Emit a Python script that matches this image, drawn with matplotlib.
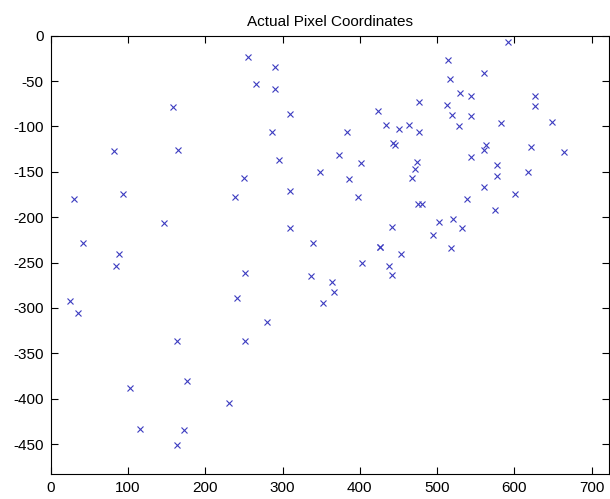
import matplotlib
matplotlib.use('Agg')
import matplotlib.pyplot as plt

# pixel positions of the detected points (x right, y down -> negated)
px = [255, 158, 82, 165, 250, 290, 266, 290, 310, 286,
      383, 423, 476, 434, 451, 464, 476, 443, 446, 373,
      295, 401, 474, 472, 349, 386, 467, 592, 514, 517,
      561, 529, 544, 513, 519, 544, 528, 626, 627, 582,
      648, 563, 560, 622, 664, 544, 577, 577, 617,
      30, 94, 239, 310, 147, 42, 89, 84, 309, 339,
      252, 337, 364, 367, 352, 25, 35, 241, 280, 164,
      252, 102, 176, 231, 116, 173, 164,
      397, 560, 538, 601, 475, 481, 575, 442, 502, 521,
      532, 495, 518, 426, 426, 453, 403, 438, 442]
py = [-24, -79, -127, -126, -157, -34, -53, -59, -86, -106,
      -106, -83, -73, -98, -103, -98, -106, -118, -121, -131,
      -137, -140, -139, -147, -150, -158, -157, -7, -27, -48,
      -41, -63, -67, -76, -87, -88, -99, -66, -77, -96,
      -95, -120, -126, -123, -128, -134, -143, -155, -150,
      -180, -175, -178, -171, -206, -229, -241, -254, -212, -229,
      -261, -265, -271, -282, -295, -292, -306, -289, -315, -336,
      -336, -388, -381, -405, -433, -434, -451,
      -178, -167, -180, -174, -185, -185, -192, -211, -205, -202,
      -212, -220, -234, -233, -233, -241, -251, -254, -264]

xticks = [0, 100, 200, 300, 400, 500, 600, 700]
yticks = [0, -50, -100, -150, -200, -250, -300, -350, -400, -450]

plt.rcParams['font.family'] = ['Liberation Sans', 'DejaVu Sans']
plt.rcParams['axes.unicode_minus'] = False

fig = plt.figure(figsize=(6.10, 4.99), dpi=100)
ax = fig.add_axes([0.0831, 0.0501, 0.9148, 0.8784])

ax.plot(px, py, 'x', color='#3c3cc0', markersize=4.5, markeredgewidth=0.8)

ax.set_xlim(0, 722)
ax.set_ylim(-483, 0)
ax.set_xticks(xticks)
ax.set_yticks(yticks)
ax.tick_params(direction='in', length=5, width=0.8, top=True, right=True,
               labelsize=11, pad=5)
for s in ax.spines.values():
    s.set_linewidth(0.8)
ax.set_title('Actual Pixel Coordinates', fontsize=11, pad=7)

fig.savefig('out.png', dpi=100)
